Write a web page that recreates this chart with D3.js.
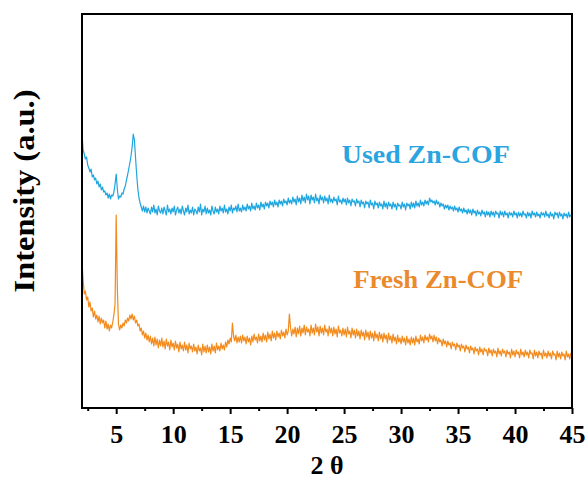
<!DOCTYPE html>
<html>
<head>
<meta charset="utf-8">
<script src="https://cdn.jsdelivr.net/npm/d3@7"></script>
<style>
  body { margin: 0; background: #fff; }
</style>
</head>
<body>
<svg id="chart" width="587" height="481"></svg>
<script>
// 2-theta grid: 2.0 to 45.0, step 0.1
const twoTheta = d3.range(431).map((i) => +(2 + i * 0.1).toFixed(1));

// Used Zn-COF intensities (a.u., offset trace), one row per degree
const usedIntensity = [
  274, 258, 254, 249, 251, 243, 240, 236, 239, 231,
  233, 228, 230, 224, 227, 221, 224, 218, 221, 216,
  217, 213, 215, 210, 214, 209, 213, 212, 216, 224,
  234, 219, 209, 212, 211, 215, 214, 219, 222, 228,
  233, 239, 245, 252, 261, 274, 268, 250, 233, 219,
  210, 205, 201, 197, 202, 196, 201, 195, 200, 197,
  194, 201, 196, 203, 195, 199, 193, 202, 197, 195,
  200, 194, 201, 197, 193, 203, 196, 199, 194, 200,
  196, 202, 193, 198, 201, 195, 199, 194, 202, 197,
  193, 200, 196, 203, 194, 198, 195, 201, 193, 199,
  197, 194, 201, 196, 204, 193, 199, 196, 202, 194,
  200, 195, 198, 193, 202, 197, 194, 201, 196, 199,
  194, 202, 197, 200, 195, 203, 196, 199, 194, 201,
  197, 203, 195, 200, 198, 202, 196, 204, 197, 200,
  196, 203, 198, 201, 197, 204, 199, 202, 197, 205,
  199, 202, 198, 205, 200, 203, 198, 206, 201, 204,
  199, 206, 202, 205, 200, 207, 203, 206, 201, 208,
  203, 206, 201, 208, 204, 207, 202, 209, 205, 207,
  203, 210, 205, 208, 204, 211, 206, 209, 203, 212,
  206, 210, 204, 213, 207, 211, 205, 214, 208, 212,
  204, 213, 208, 211, 205, 214, 207, 210, 204, 213,
  208, 211, 205, 212, 207, 210, 204, 213, 206, 209,
  205, 211, 207, 209, 203, 212, 206, 208, 204, 210,
  206, 209, 203, 210, 205, 208, 202, 209, 206, 207,
  202, 209, 205, 207, 201, 208, 204, 206, 200, 207,
  204, 206, 200, 208, 203, 205, 199, 207, 203, 205,
  200, 206, 202, 204, 199, 207, 201, 205, 199, 206,
  202, 204, 199, 206, 201, 204, 198, 205, 202, 203,
  199, 206, 201, 204, 198, 205, 202, 204, 199, 206,
  201, 205, 200, 207, 202, 205, 201, 208, 203, 206,
  202, 208, 204, 207, 203, 210, 206, 208, 205, 207,
  203, 208, 204, 206, 201, 205, 202, 204, 199, 203,
  200, 203, 198, 202, 199, 201, 197, 202, 198, 200,
  196, 201, 197, 199, 195, 200, 196, 198, 194, 199,
  195, 198, 193, 199, 195, 197, 192, 198, 194, 196,
  192, 198, 194, 196, 191, 197, 193, 196, 191, 197,
  193, 196, 191, 197, 194, 195, 190, 197, 193, 196,
  191, 197, 193, 195, 190, 196, 193, 195, 191, 197,
  193, 195, 190, 196, 192, 195, 191, 197, 193, 194,
  190, 196, 192, 195, 190, 197, 193, 195, 191, 196,
  192, 194, 190, 196, 193, 195, 191, 197, 192, 194,
  190, 196, 192, 194, 189, 196, 193, 195, 190, 196,
  192, 194, 189, 195, 192, 194, 190, 196, 191, 193,
  192
];

// Fresh Zn-COF intensities (a.u., offset trace), one row per degree
const freshIntensity = [
  146, 128, 114, 117, 108, 111, 101, 106, 97, 100,
  91, 97, 89, 93, 86, 92, 84, 90, 85, 88,
  80, 87, 79, 84, 77, 83, 80, 86, 93, 104,
  193, 120, 84, 78, 83, 80, 85, 82, 88, 85,
  90, 87, 93, 89, 94, 88, 92, 85, 88, 82,
  84, 77, 80, 73, 77, 70, 75, 68, 73, 66,
  72, 64, 70, 62, 71, 63, 69, 60, 68, 62,
  70, 61, 67, 59, 69, 62, 66, 58, 68, 61,
  65, 58, 67, 60, 64, 56, 66, 59, 63, 57,
  66, 58, 63, 55, 65, 59, 62, 56, 64, 57,
  61, 54, 63, 57, 60, 53, 64, 56, 62, 55,
  63, 56, 61, 54, 64, 57, 62, 55, 65, 58,
  62, 57, 65, 59, 63, 58, 66, 61, 68, 64,
  70, 66, 85, 72, 67, 73, 65, 71, 66, 72,
  65, 73, 67, 71, 64, 72, 66, 70, 63, 72,
  66, 74, 68, 71, 65, 74, 67, 72, 66, 75,
  68, 73, 66, 76, 69, 74, 67, 77, 70, 75,
  68, 77, 71, 75, 69, 78, 72, 76, 70, 79,
  73, 77, 94, 80, 72, 79, 74, 81, 71, 80,
  74, 82, 72, 80, 75, 83, 73, 81, 76, 79,
  72, 83, 75, 80, 73, 84, 76, 81, 72, 82,
  75, 80, 73, 83, 76, 79, 72, 82, 75, 80,
  72, 81, 74, 79, 71, 82, 75, 78, 72, 80,
  73, 79, 71, 81, 74, 77, 70, 80, 73, 78,
  70, 79, 72, 77, 69, 78, 72, 76, 68, 78,
  71, 76, 68, 77, 70, 75, 67, 77, 70, 74,
  67, 76, 69, 74, 66, 75, 69, 73, 65, 75,
  68, 72, 65, 74, 67, 71, 64, 73, 66, 70,
  64, 72, 66, 70, 63, 72, 65, 69, 63, 71,
  65, 70, 63, 72, 66, 69, 64, 73, 67, 71,
  65, 73, 68, 71, 66, 74, 69, 72, 66, 73,
  67, 71, 64, 70, 66, 68, 62, 69, 64, 67,
  61, 67, 63, 65, 59, 66, 62, 64, 58, 65,
  61, 63, 57, 64, 60, 62, 56, 63, 59, 61,
  55, 62, 58, 60, 54, 61, 57, 59, 53, 61,
  56, 59, 53, 60, 57, 58, 52, 60, 55, 58,
  52, 59, 55, 57, 51, 60, 54, 57, 52, 59,
  55, 57, 51, 58, 54, 56, 50, 59, 53, 57,
  51, 58, 54, 56, 50, 59, 53, 56, 51, 58,
  53, 56, 50, 58, 54, 55, 49, 58, 52, 56,
  50, 57, 53, 55, 49, 58, 52, 55, 50, 57,
  52, 55, 49, 57, 53, 54, 48, 57, 51, 55,
  49, 56, 52, 54, 48, 57, 51, 54, 49, 55,
  50
];

const seriesNames = ['Used Zn-COF', 'Fresh Zn-COF'];
const seriesColors = ['#1ea6e0', '#f28a1c'];
const labelColors = ['#2aa5df', '#ea8a2c'];
const xTicks = [5, 10, 15, 20, 25, 30, 35, 40, 45];
const xMinorTicks = [2.5, 7.5, 12.5, 17.5, 22.5, 27.5, 32.5, 37.5, 42.5];

const margin = { top: 14, right: 15, bottom: 73, left: 82 };
const width = 587 - margin.left - margin.right;
const height = 481 - margin.top - margin.bottom;
const serif = '"Liberation Serif", "Times New Roman", Times, "DejaVu Serif", serif';

const svg = d3.select('#chart')
  .append('g')
  .attr('transform', `translate(${margin.left},${margin.top})`);

const x = d3.scaleLinear().domain([2, 45]).range([0, width]);
const y = d3.scaleLinear().domain([0, 394]).range([height, 0]);

const line = d3.line()
  .x((d) => x(d[0]))
  .y((d) => y(d[1]));

// Traces
[usedIntensity, freshIntensity].forEach((vals, i) => {
  svg.append('path')
    .datum(twoTheta.map((t, j) => [t, vals[j]]))
    .attr('fill', 'none')
    .attr('stroke', seriesColors[i])
    .attr('stroke-width', 1.2)
    .attr('stroke-linejoin', 'round')
    .attr('d', line);
});

// Minor ticks
svg.append('g')
  .attr('transform', `translate(0,${height})`)
  .call(d3.axisBottom(x).tickValues(xMinorTicks).tickSize(3).tickFormat(''))
  .call((g) => g.select('.domain').remove())
  .call((g) => g.selectAll('line').attr('stroke-width', 2));

// Major ticks + labels
const xAxis = svg.append('g')
  .attr('transform', `translate(0,${height})`)
  .call(d3.axisBottom(x).tickValues(xTicks).tickSize(6).tickSizeOuter(0));
xAxis.attr('font-family', serif).attr('font-size', 26).attr('font-weight', 'bold');
xAxis.select('.domain').remove();
xAxis.selectAll('line').attr('stroke-width', 2);
xAxis.selectAll('text')
  .attr('y', 35)
  .attr('dy', 0)
  .attr('fill', '#000');

// Frame
svg.append('rect')
  .attr('x', 0)
  .attr('y', 0)
  .attr('width', width)
  .attr('height', height)
  .attr('fill', 'none')
  .attr('stroke', '#000')
  .attr('stroke-width', 2);

// Series labels (left edge in 2-theta, baseline in intensity units, text width in px)
const labelPos = [
  { t: 24.8, v: 245, len: 168 },
  { t: 25.8, v: 120, len: 170 }
];
seriesNames.forEach((name, i) => {
  svg.append('text')
    .attr('x', x(labelPos[i].t))
    .attr('y', y(labelPos[i].v))
    .attr('fill', labelColors[i])
    .attr('font-family', serif)
    .attr('font-weight', 'bold')
    .attr('font-size', 26)
    .attr('textLength', labelPos[i].len)
    .attr('lengthAdjust', 'spacingAndGlyphs')
    .text(name);
});

// Axis titles
svg.append('text')
  .attr('x', width / 2)
  .attr('y', height + 66)
  .attr('text-anchor', 'middle')
  .attr('font-family', serif)
  .attr('font-weight', 'bold')
  .attr('font-size', 26)
  .text('2 θ');

svg.append('text')
  .attr('transform', `translate(-48,${177})rotate(-90)`)
  .attr('text-anchor', 'middle')
  .attr('font-family', serif)
  .attr('font-weight', 'bold')
  .attr('font-size', 30)
  .attr('textLength', 203)
  .attr('lengthAdjust', 'spacingAndGlyphs')
  .text('Intensity (a.u.)');
</script>
</body>
</html>
